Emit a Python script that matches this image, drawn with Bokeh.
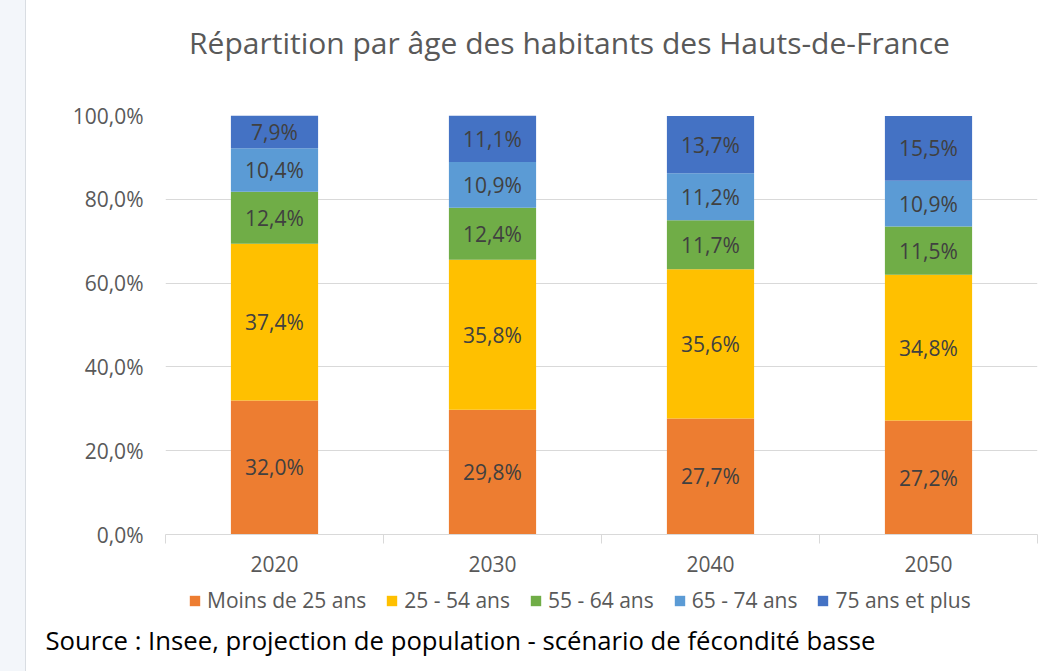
from bokeh.plotting import figure
from bokeh.models import (ColumnDataSource, FixedTicker, Range1d, Legend, LegendItem,
                          Spacer, Label)
from bokeh.layouts import row, column
from bokeh.core.properties import value
from bokeh.embed import file_html
from bokeh.resources import INLINE

FONT = "Open Sans"

years = ["2020", "2030", "2040", "2050"]
groups = ["Moins de 25 ans", "25 - 54 ans", "55 - 64 ans", "65 - 74 ans", "75 ans et plus"]
moins_25 = [32.0, 29.8, 27.7, 27.2]
ans_25_54 = [37.4, 35.8, 35.6, 34.8]
ans_55_64 = [12.4, 12.4, 11.7, 11.5]
ans_65_74 = [10.4, 10.9, 11.2, 10.9]
ans_75_plus = [7.9, 11.1, 13.7, 15.5]
colors = ["#ED7D31", "#FFC000", "#70AD47", "#5B9BD5", "#4472C4"]
y_ticks = [0, 20, 40, 60, 80, 100]
title_text = "Répartition par âge des habitants des Hauts-de-France"
source_text = "Source : Insee, projection de population - scénario de fécondité basse"

series = [moins_25, ans_25_54, ans_55_64, ans_65_74, ans_75_plus]
keys = ["s0", "s1", "s2", "s3", "s4"]
xs = [i + 0.5 for i in range(len(years))]

data = {"x": xs}
for k, s in zip(keys, series):
    data[k] = s
src = ColumnDataSource(data)

W = 1013


def blank(height):
    f = figure(width=W, height=height, x_range=Range1d(0, W), y_range=Range1d(height, 0),
               x_axis_type=None, y_axis_type=None, output_backend="svg",
               toolbar_location=None, min_border=0, outline_line_color=None,
               background_fill_color="white", border_fill_color="white",
               frame_align=False)
    f.grid.visible = False
    return f


# ---- title strip
t = blank(75)
t.add_layout(Label(x=543, y=42, text=title_text, text_font=FONT, text_font_size="30px",
                   text_color="#595959", text_align="center", text_baseline="middle"))

# ---- main chart
p = figure(frame_width=872, frame_height=419, x_range=Range1d(0, 4), y_range=Range1d(0, 100),
           output_backend="svg", toolbar_location=None, frame_align=False,
           min_border_left=139, min_border_right=2, min_border_top=40, min_border_bottom=53,
           background_fill_color="white", border_fill_color="white", outline_line_color=None)

p.vbar_stack(keys, x="x", width=0.4, color=colors, line_color=None, source=src)

lx, ly, lt = [], [], []
for i, x in enumerate(xs):
    base = 0.0
    for s in series:
        v = s[i]
        lx.append(x)
        ly.append(base + v / 2)
        lt.append(f"{v:.1f}%".replace(".", ","))
        base += v
p.text(x=lx, y=ly, text=lt, text_align="center", text_baseline="middle",
       text_font=value(FONT), text_font_size="21px", text_color="#404040")

p.xaxis.ticker = FixedTicker(ticks=xs, minor_ticks=list(range(len(years) + 1)))
p.xaxis.major_label_overrides = {x: y for x, y in zip(xs, years)}
p.xaxis.axis_line_color = "#d9d9d9"
p.xaxis.major_tick_line_color = None
p.xaxis.minor_tick_line_color = "#d9d9d9"
p.xaxis.minor_tick_in = 0
p.xaxis.minor_tick_out = 9
p.xaxis.major_label_standoff = 12
p.xaxis.major_label_text_font = FONT
p.xaxis.major_label_text_font_size = "21px"
p.xaxis.major_label_text_color = "#595959"

p.yaxis.ticker = FixedTicker(ticks=y_ticks)
p.yaxis.major_label_overrides = {t_: f"{t_:.1f}%".replace(".", ",") for t_ in y_ticks}
p.yaxis.axis_line_color = None
p.yaxis.major_tick_line_color = None
p.yaxis.minor_tick_line_color = None
p.yaxis.major_label_standoff = 16
p.yaxis.major_label_text_font = FONT
p.yaxis.major_label_text_font_size = "21px"
p.yaxis.major_label_text_color = "#595959"

p.xgrid.visible = False
p.ygrid.ticker = FixedTicker(ticks=y_ticks)
p.ygrid.grid_line_color = "#d9d9d9"

# ---- legend + source strip
b = blank(84)
# legend swatches: same series, mapped onto a range that lies outside the visible strip
b.extra_y_ranges = {"offstrip": Range1d(1000, 2000)}
legend_renderers = [b.vbar(x="x", top=k, width=0.4, color=c, line_color=None, source=src,
                           y_range_name="offstrip")
                    for k, c in zip(keys, colors)]
lg = Legend(items=[LegendItem(label=g, renderers=[r]) for g, r in zip(groups, legend_renderers)],
            orientation="horizontal", location=(162, 57))
lg.border_line_color = None
lg.background_fill_alpha = 0
lg.padding = 0
lg.margin = 0
lg.spacing = 19
lg.glyph_width = 13
lg.glyph_height = 13
lg.label_standoff = 6
lg.label_text_font = FONT
lg.label_text_font_size = "21px"
lg.label_text_color = "#595959"
b.add_layout(lg)
b.add_layout(Label(x=19, y=53, text=source_text, text_font=FONT, text_font_size="25.7px",
                   text_color="#000000", text_align="left", text_baseline="middle"))

strip = Spacer(width=25, height=671, styles={"background-color": "#f3f6fa"})
edge = Spacer(width=1, height=671, styles={"background-color": "#d9dde2"})

layout = row(strip, edge, column(t, p, b, spacing=0), spacing=0)
open("out.html", "w").write(file_html(layout, INLINE))
